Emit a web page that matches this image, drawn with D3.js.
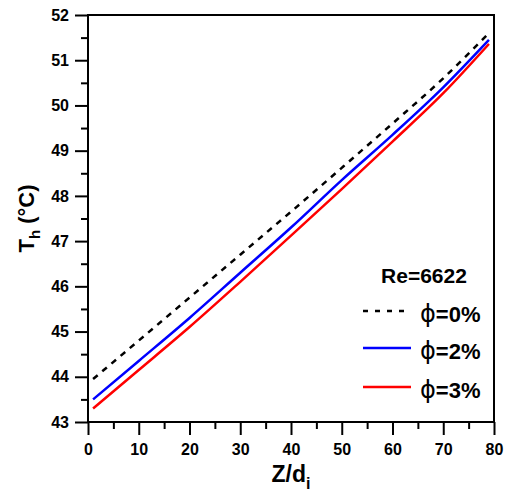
<!DOCTYPE html>
<html>
<head>
<meta charset="utf-8">
<script src="https://cdn.jsdelivr.net/npm/d3@7"></script>
<style>
  body { margin: 0; background: #fff; }
  svg { font-family: "Liberation Sans", Arial, sans-serif; font-weight: bold; }
</style>
</head>
<body>
<svg id="chart" width="506" height="496"></svg>
<script>
// data
const zValues = [1, 10, 20, 30, 40, 50, 60, 70, 79]
const phi0 = [43.95, 44.8, 45.75, 46.7, 47.65, 48.62, 49.6, 50.6, 51.6]
const phi2 = [43.5, 44.35, 45.3, 46.3, 47.3, 48.35, 49.35, 50.4, 51.45]
const phi3 = [43.3, 44.15, 45.1, 46.1, 47.12, 48.15, 49.2, 50.27, 51.36]
const xTicks = [0, 10, 20, 30, 40, 50, 60, 70, 80]
const yTicks = [43, 44, 45, 46, 47, 48, 49, 50, 51, 52]
const legendLabels = ["=0%", "=2%", "=3%"]

const series = [
  { name: legendLabels[0], values: phi0, color: "#000", dash: "6,6" },
  { name: legendLabels[1], values: phi2, color: "#0000ff", dash: null },
  { name: legendLabels[2], values: phi3, color: "#ff0000", dash: null }
]

const svg = d3.select("#chart")
const margin = { left: 88, right: 12, top: 15, bottom: 74 }
const width = 506 - margin.left - margin.right
const height = 496 - margin.top - margin.bottom

const x = d3.scaleLinear().domain([0, 80]).range([margin.left, margin.left + width])
const y = d3.scaleLinear().domain([43, 52]).range([margin.top + height, margin.top])

// minor ticks first
svg.append("g")
  .attr("transform", `translate(0,${margin.top + height})`)
  .call(d3.axisBottom(x).tickValues(d3.range(5, 80, 10)).tickSize(7).tickFormat(""))
svg.append("g")
  .attr("transform", `translate(${margin.left},0)`)
  .call(d3.axisLeft(y).tickValues(d3.range(43.5, 52, 1)).tickSize(7).tickFormat(""))

// major
svg.append("g")
  .attr("class", "xaxis")
  .attr("transform", `translate(0,${margin.top + height})`)
  .call(d3.axisBottom(x).tickValues(xTicks).tickSize(13).tickPadding(9))
svg.append("g")
  .attr("class", "yaxis")
  .attr("transform", `translate(${margin.left},0)`)
  .call(d3.axisLeft(y).tickValues(yTicks).tickSize(13).tickPadding(6))

svg.selectAll(".domain").remove()
svg.selectAll(".tick line").attr("stroke", "#000").attr("stroke-width", 2)
svg.selectAll(".tick text")
  .attr("fill", "#000")
  .style("font-size", "16px")
  .style("font-weight", "bold")
  .style("font-family", "Liberation Sans, Arial, sans-serif")

// frame
svg.append("rect")
  .attr("x", margin.left)
  .attr("y", margin.top)
  .attr("width", width)
  .attr("height", height)
  .attr("fill", "none")
  .attr("stroke", "#000")
  .attr("stroke-width", 2)

const line = d3.line()
  .curve(d3.curveMonotoneX)
  .x((d, i) => x(zValues[i]))
  .y(d => y(d))

svg.selectAll(".series")
  .data(series)
  .join("path")
  .attr("class", "series")
  .attr("d", d => line(d.values))
  .attr("fill", "none")
  .attr("stroke", d => d.color)
  .attr("stroke-width", 2.5)
  .attr("stroke-dasharray", d => d.dash)

// legend
const legend = svg.append("g")
legend.append("text")
  .attr("x", 424)
  .attr("y", 283)
  .attr("text-anchor", "middle")
  .style("font-size", "21px")
  .text("Re=6622")

const rowY = [311, 348, 387]
series.forEach((s, i) => {
  legend.append("line")
    .attr("x1", 363).attr("x2", 411)
    .attr("y1", rowY[i]).attr("y2", rowY[i])
    .attr("stroke", s.color)
    .attr("stroke-width", 2.5)
    .attr("stroke-dasharray", s.dash ? "5,7" : null)
  const t = legend.append("text")
    .attr("x", 420)
    .attr("y", rowY[i] + 11)
    .style("font-size", "22px")
  t.append("tspan")
    .style("font-family", "DejaVu Sans")
    .style("font-weight", "normal")
    .style("font-size", "24px")
    .text("\u03d5")
  t.append("tspan").text(s.name)
})

// axis titles
const xt = svg.append("text")
  .attr("x", x(40))
  .attr("y", 482)
  .attr("text-anchor", "middle")
  .style("font-size", "23px")
xt.append("tspan").text("Z/d")
xt.append("tspan").attr("dy", 7).style("font-size", "16px").text("i")

const yt = svg.append("text")
  .attr("transform", `translate(34,${y(47.5)}) rotate(-90)`)
  .attr("text-anchor", "middle")
  .style("font-size", "22px")
yt.append("tspan").text("T")
yt.append("tspan").attr("dy", 6).style("font-size", "15px").text("h")
yt.append("tspan").attr("dy", -6).text(" (\u00b0C)")
</script>
</body>
</html>
